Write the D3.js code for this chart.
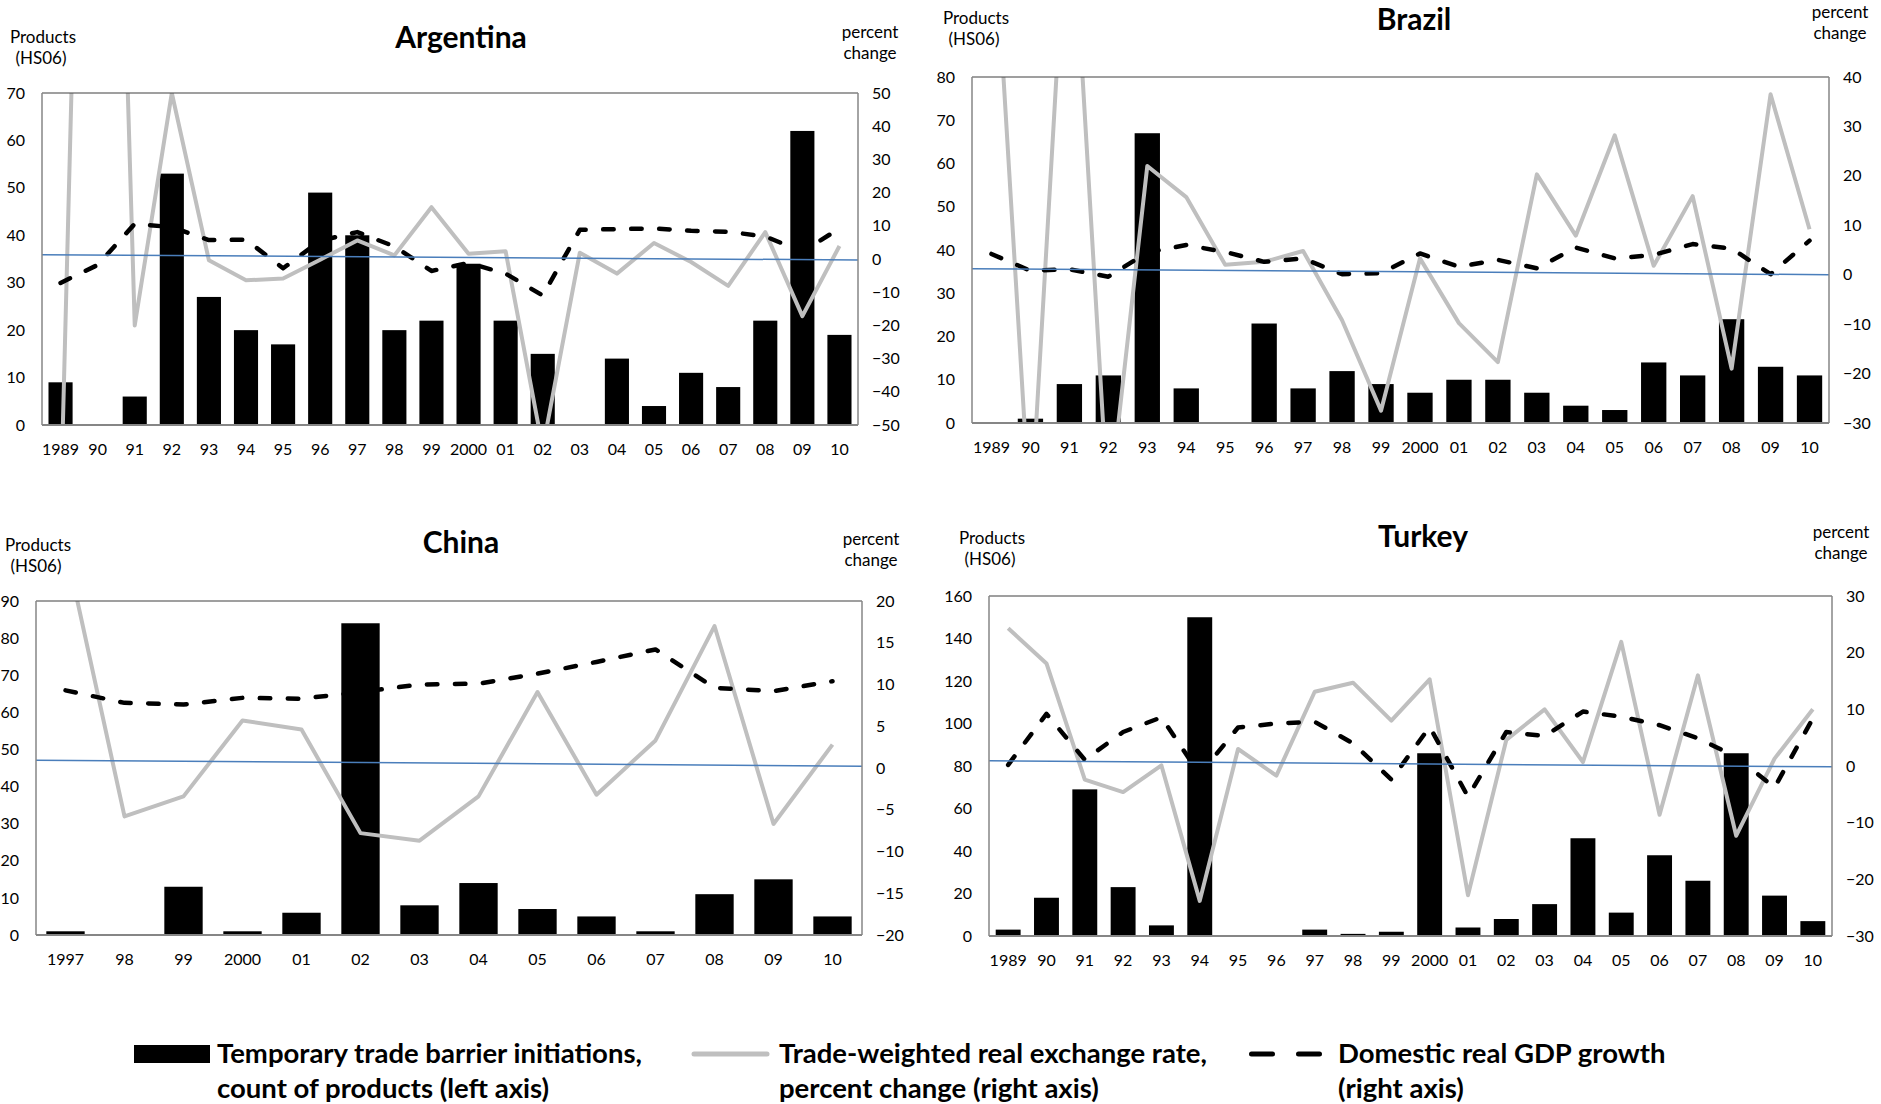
<!DOCTYPE html>
<html lang="en">
<head>
<meta charset="utf-8">
<title>Temporary trade barriers, real exchange rates and GDP growth</title>
<script src="https://d3js.org/d3.v7.min.js"></script>
<style>
  body { margin: 0; background: #fff; }
  svg { display: block; font-family: Lato, "Open Sans", sans-serif; }
  .tick text { font-size: 16px; fill: #000; }
</style>
</head>
<body>
<svg id="chart"></svg>
<script>
// categories
var years89 = ["1989","90","91","92","93","94","95","96","97","98","99","2000",
               "01","02","03","04","05","06","07","08","09","10"];
var years97 = ["1997","98","99","2000","01","02","03","04","05","06","07","08","09","10"];

// Argentina
var argBars  = [9,0,6,53,27,20,17,49,40,20,22,34,22,15,0,14,4,11,8,22,62,19];
var argRer   = [-77,356,-20,50,-0.4,-6.4,-5.9,-0.2,5.6,1.1,15.6,1.6,2.3,-57,1.9,-4.4,4.8,-0.9,-8.1,8.1,-17.2,3.9];
var argGdp   = [-7.2,-1.8,10.6,9.6,5.7,5.8,-2.8,5.5,8.1,3.8,-3.6,-1.2,-4.4,-11.0,8.8,9.0,9.2,8.5,8.2,6.8,2.2,9.2];
var argTrend = [1.3,-0.3];
var argLeftTicks  = [0,10,20,30,40,50,60,70];
var argRightTicks = [-50,-40,-30,-20,-10,0,10,20,30,40,50];

// Brazil
var brBars  = [0,1,9,11,67,8,0,23,8,12,9,7,10,10,7,4,3,14,11,24,13,11];
var brRer   = [80,-50,85,-48,22.0,15.7,2.0,2.6,4.8,-9.2,-27.5,3.3,-9.8,-17.7,20.3,7.9,28.2,1.8,15.9,-19.0,36.5,9.2];
var brGdp   = [4.2,0.8,1.1,-0.4,4.5,6.0,4.6,2.6,3.3,0.1,0.3,4.3,1.6,3.0,1.3,5.5,3.3,4.0,6.2,5.3,0.1,6.9];
var brTrend = [1.2,0.0];
var brLeftTicks  = [0,10,20,30,40,50,60,70,80];
var brRightTicks = [-30,-20,-10,0,10,20,30,40];

// China
var cnBars  = [1,0,13,1,6,84,8,14,7,5,1,11,15,5];
var cnRer   = [26.5,-5.8,-3.4,5.7,4.6,-7.8,-8.7,-3.4,9.1,-3.2,3.3,17.0,-6.7,2.8];
var cnGdp   = [9.3,7.8,7.6,8.4,8.3,9.1,10.0,10.1,11.3,12.7,14.2,9.6,9.2,10.4];
var cnTrend = [0.94,0.22];
var cnLeftTicks  = [0,10,20,30,40,50,60,70,80,90];
var cnRightTicks = [-20,-15,-10,-5,0,5,10,15,20];

// Turkey
var trBars  = [3,18,69,23,5,150,0,0,3,1,2,86,4,8,15,46,11,38,26,86,19,7];
var trRer   = [24.3,18.1,-2.4,-4.6,0.1,-23.8,3.0,-1.7,13.1,14.7,8.0,15.3,-22.8,4.6,10.0,0.7,21.9,-8.6,16.0,-12.3,1.3,10.0];
var trGdp   = [0.2,9.2,1.1,6.0,8.6,-1.5,6.8,7.5,7.8,4.0,-2.4,6.9,-5.4,6.0,5.3,9.6,8.7,7.2,4.9,1.6,-3.8,8.4];
var trTrend = [0.91,-0.15];
var trLeftTicks  = [0,20,40,60,80,100,120,140,160];
var trRightTicks = [-30,-20,-10,0,10,20,30];

// legend
var legendBar  = ["Temporary trade barrier initiations,", "count of products (left axis)"];
var legendRer  = ["Trade-weighted real exchange  rate,", "percent change (right axis)"];
var legendGdp  = ["Domestic real GDP growth", "(right axis)"];

var W = 1881, H = 1104;
var svg = d3.select("#chart").attr("width", W).attr("height", H);

var panels = [
  {id:"arg", name:"Argentina", cats:years89, bars:argBars, rer:argRer, gdp:argGdp, trend:argTrend,
   lt:argLeftTicks, rt:argRightTicks, x0:42, x1:858, y0:93, y1:425,
   title:[461,48], prod:[43,43], pct:[870,38]},
  {id:"br", name:"Brazil", cats:years89, bars:brBars, rer:brRer, gdp:brGdp, trend:brTrend,
   lt:brLeftTicks, rt:brRightTicks, x0:972, x1:1829, y0:77, y1:423,
   title:[1414,30], prod:[976,24], pct:[1840,18]},
  {id:"cn", name:"China", cats:years97, bars:cnBars, rer:cnRer, gdp:cnGdp, trend:cnTrend,
   lt:cnLeftTicks, rt:cnRightTicks, x0:36, x1:862, y0:601, y1:935,
   title:[461,553], prod:[38,551], pct:[871,545]},
  {id:"tr", name:"Turkey", cats:years89, bars:trBars, rer:trRer, gdp:trGdp, trend:trTrend,
   lt:trLeftTicks, rt:trRightTicks, x0:989, x1:1832, y0:596, y1:936,
   title:[1423,547], prod:[992,544], pct:[1841,538]}
];

panels.forEach(drawPanel);
drawLegend();

function drawPanel(p) {
  var g = svg.append("g").attr("class", "panel-" + p.id);

  var x = d3.scaleBand().domain(p.cats).range([p.x0, p.x1])
      .paddingInner(0.35).paddingOuter(0.175);
  var yL = d3.scaleLinear().domain([p.lt[0], p.lt[p.lt.length - 1]]).range([p.y1, p.y0]);
  var yR = d3.scaleLinear().domain([p.rt[0], p.rt[p.rt.length - 1]]).range([p.y1, p.y0]);

  g.append("clipPath").attr("id", "clip-" + p.id)
    .append("rect")
    .attr("x", p.x0).attr("y", p.y0)
    .attr("width", p.x1 - p.x0).attr("height", p.y1 - p.y0);

  // bars
  g.selectAll("rect.bar").data(p.bars).join("rect")
    .attr("class", "bar")
    .attr("x", function(d, i) { return x(p.cats[i]); })
    .attr("y", function(d) { return yL(d); })
    .attr("width", x.bandwidth())
    .attr("height", function(d) { return yL(0) - yL(d); })
    .attr("fill", "#000");

  var line = d3.line()
    .x(function(d, i) { return x(p.cats[i]) + x.bandwidth() / 2; })
    .y(function(d) { return yR(d); });

  var lines = g.append("g").attr("clip-path", "url(#clip-" + p.id + ")");

  lines.append("path").datum(p.rer)
    .attr("d", line)
    .attr("fill", "none")
    .attr("stroke", "#bfbfbf")
    .attr("stroke-width", 4)
    .attr("stroke-linejoin", "round");

  lines.append("path").datum(p.gdp)
    .attr("d", line)
    .attr("fill", "none")
    .attr("stroke", "#000")
    .attr("stroke-width", 4.5)
    .attr("stroke-linecap", "round")
    .attr("stroke-linejoin", "round")
    .attr("stroke-dasharray", "10.5,17.5");

  // linear trend line across the plot
  lines.append("line")
    .attr("x1", p.x0).attr("x2", p.x1)
    .attr("y1", yR(p.trend[0])).attr("y2", yR(p.trend[1]))
    .attr("stroke", "#4a7ebb")
    .attr("stroke-width", 1.5);

  // frame
  g.append("line").attr("x1", p.x0).attr("x2", p.x1).attr("y1", p.y0).attr("y2", p.y0)
    .attr("stroke", "#404040").attr("stroke-width", 1.2);
  g.append("line").attr("x1", p.x0).attr("x2", p.x0).attr("y1", p.y0).attr("y2", p.y1)
    .attr("stroke", "#868686").attr("stroke-width", 1.5);
  g.append("line").attr("x1", p.x1).attr("x2", p.x1).attr("y1", p.y0).attr("y2", p.y1)
    .attr("stroke", "#868686").attr("stroke-width", 1.5);
  g.append("line").attr("x1", p.x0).attr("x2", p.x1).attr("y1", p.y1).attr("y2", p.y1)
    .attr("stroke", "#868686").attr("stroke-width", 2);

  // axes
  var ax = g.append("g").attr("transform", "translate(" + p.x0 + ",0)")
    .call(d3.axisLeft(yL).tickValues(p.lt).tickSize(0).tickPadding(17));
  ax.select(".domain").remove();

  var axr = g.append("g").attr("transform", "translate(" + p.x1 + ",0)")
    .call(d3.axisRight(yR).tickValues(p.rt).tickSize(0).tickPadding(14));
  axr.select(".domain").remove();

  var axb = g.append("g").attr("transform", "translate(0," + p.y1 + ")")
    .call(d3.axisBottom(x).tickSize(0).tickPadding(19));
  axb.select(".domain").remove();

  g.selectAll(".tick text").attr("font-family", "Lato, 'Open Sans', sans-serif");

  // titles
  g.append("text")
    .attr("x", p.title[0]).attr("y", p.title[1])
    .attr("text-anchor", "middle")
    .attr("font-size", 30).attr("font-weight", "bold")
    .text(p.name);

  var lab = g.append("text")
    .attr("text-anchor", "middle")
    .attr("font-size", 17);
  lab.append("tspan").attr("x", p.prod[0]).attr("y", p.prod[1]).text("Products");
  lab.append("tspan").attr("x", p.prod[0] - 2).attr("y", p.prod[1] + 21).text("(HS06)");

  var pct = g.append("text")
    .attr("text-anchor", "middle")
    .attr("font-size", 17);
  pct.append("tspan").attr("x", p.pct[0]).attr("y", p.pct[1]).text("percent");
  pct.append("tspan").attr("x", p.pct[0]).attr("y", p.pct[1] + 21).text("change");
}

function drawLegend() {
  var g = svg.append("g").attr("class", "legend")
    .attr("font-size", 27.5).attr("font-weight", "bold");

  g.append("rect").attr("x", 134).attr("y", 1045).attr("width", 76).attr("height", 18)
    .attr("fill", "#000");

  g.append("line").attr("x1", 694).attr("x2", 767).attr("y1", 1054).attr("y2", 1054)
    .attr("stroke", "#bfbfbf").attr("stroke-width", 5).attr("stroke-linecap", "round");

  g.append("line").attr("x1", 1251.5).attr("x2", 1319.5).attr("y1", 1054).attr("y2", 1054)
    .attr("stroke", "#000").attr("stroke-width", 5).attr("stroke-linecap", "round")
    .attr("stroke-dasharray", "21,26");

  var items = [[217, legendBar], [779, legendRer], [1338, legendGdp]];
  items.forEach(function(it) {
    var t = g.append("text");
    it[1].forEach(function(s, i) {
      t.append("tspan").attr("x", it[0]).attr("y", i === 0 ? 1063 : 1098).text(s);
    });
  });
}
</script>
</body>
</html>
